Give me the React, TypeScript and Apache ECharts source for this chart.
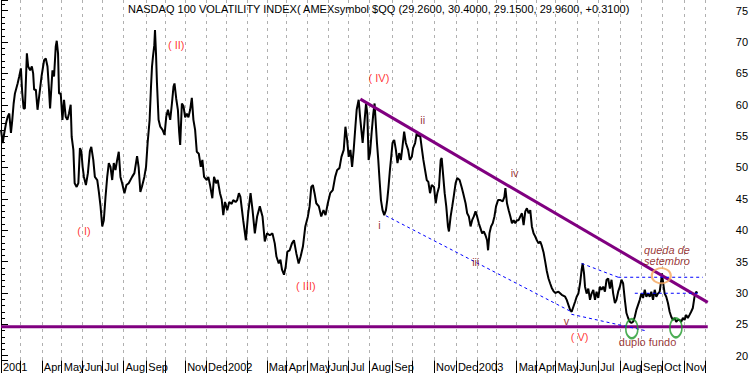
import React, { useEffect, useRef } from "react";
import * as echarts from "echarts";

const TITLE =
  "NASDAQ 100 VOLATILITY INDEX( AMEXsymbol $QQ (29.2600, 30.4000, 29.1500, 29.9600, +0.3100)";

// trading-day slots along the time axis
const DAY_SLOTS = 711;

// first trading day of each month (slot index) and its axis label
const monthStarts = [
  0, 19, 41, 61, 82, 102, 123, 146, 165, 185, 206, 226, 247, 267, 287, 308, 329, 349,
  370, 393, 413, 435, 457, 478, 498, 518, 538, 557, 579, 600, 622, 643, 664, 686, 707,
];
const monthLabels = [
  "2001", "", "Apr", "May", "Jun", "Jul", "Aug", "Sep", "", "Nov", "Dec", "2002", "",
  "Mar", "Apr", "May", "Jun", "Jul", "Aug", "Sep", "", "Nov", "Dec", "2003", "", "Mar",
  "Apr", "May", "Jun", "Jul", "Aug", "Sep", "Oct", "Nov", "",
];

// daily close of the index: [day slot, value]
const vxnDaily: [number, number][] = [
  [0, 56.0], [1.7, 53.9], [3.3, 55.5], [5, 57], [6.7, 58.1], [8.3, 58.6], [10, 55.5], [11.3, 57.5],
  [12.7, 60.2], [14, 61.8], [16.7, 63.4], [18.3, 64.5], [20, 65.8], [21.3, 62], [22.7, 59.4], [24, 59.4],
  [26, 68.2], [27.3, 66.1], [29.3, 65.5], [31, 66.1], [32.3, 65.0], [33.3, 62.4], [35, 62.4], [36.7, 59.2],
  [38.3, 61.3], [40.7, 64.5], [43.3, 67.1], [45, 67.4], [46.7, 66.1], [48, 63], [49.3, 59.4], [51.7, 65.5],
  [53.3, 64.5], [55, 69.3], [56, 70.2], [57.3, 68.2], [58.3, 61.8], [60, 61.8], [61.7, 57.6], [63.3, 60.8],
  [65, 58.1], [66.7, 57.6], [68.3, 58.6], [70, 60.0], [71, 54.9], [72.7, 52.8], [74, 47.5], [76, 46.9],
  [77.7, 47.5], [79.3, 53.1], [80.7, 52.6], [82, 50.1], [83.3, 48.5], [85.3, 47.2], [87.3, 49.1], [89.3, 52.6],
  [90.7, 53.3], [92.7, 51.2], [94.3, 48.5], [96.7, 48.0], [98.3, 46.1], [100, 43.8], [101.7, 40.6], [103.3, 41.6],
  [105, 45.3], [106.7, 48.5], [108.3, 50.7], [110, 50.1], [111.7, 48.0], [113.3, 50.7], [115, 49.6], [116.7, 51.2],
  [118.3, 52.5], [120, 48.5], [121.7, 47.5], [124, 45.9], [126, 47.2], [128.3, 47.5], [131.7, 48.5], [134, 49.1],
  [136.7, 51.8], [138.3, 50.0], [140, 46.1], [141.7, 47.0], [144, 48.5], [145.7, 50.1], [147.3, 53.9], [149.3, 57.6],
  [150.7, 62.9], [151.7, 66.1], [152.7, 67.7], [154, 69.5], [154.7, 71.9], [155.7, 68.2], [156.7, 63.4], [158.3, 57.6],
  [160, 56.5], [162.3, 56.0], [164.3, 55.2], [166, 58.1], [167.7, 59.2], [170, 57.6], [171.7, 60.2], [173.3, 62.9],
  [174.3, 63.4], [176, 61.0], [177.7, 59.2], [179, 55.6], [180, 53.6], [181.7, 60.2], [183.3, 59.8], [185, 58.0],
  [186.7, 58.6], [188.3, 58.0], [190, 59.2], [191.7, 61.1], [193.3, 57.6], [195, 56.0], [196.7, 52.5], [198.7, 52.2],
  [200.7, 50.1], [202.3, 51.2], [204, 48.5], [206.7, 48.0], [208.3, 48.5], [210, 47.2], [212.3, 45.1], [214, 48.5],
  [216, 47.5], [217.7, 48.0], [220, 45.9], [221.7, 44.9], [223.3, 42.4], [225, 44.5], [227.3, 43.2], [229.3, 44.5],
  [231.7, 44.2], [233.3, 44.8], [235.7, 44.5], [237.3, 44.8], [239, 45.9], [240.5, 45.3],
  [243.3, 41.6], [246, 38.4], [248.3, 42.7], [250.7, 45.9], [252.7, 43.2], [255, 39.5], [257.3, 42.2], [260, 43.8],
  [262.7, 42.2], [265, 38.2], [267.3, 39.5], [270, 39.2], [272.7, 39.5], [275, 37.9], [276.7, 35.8], [279, 34.7],
  [280.7, 35.3], [282.3, 33.7], [284.3, 32.9], [286, 34.2], [287.7, 36.6], [290, 36.8], [292.3, 37.9], [294.3, 38.4],
  [296.7, 36.3], [299, 34.7], [301, 35.8], [303.3, 37.4], [305.7, 40.6], [308.3, 42.2], [310, 43.8], [311.7, 46.9],
  [313.3, 47.2], [315, 45.9], [316.7, 44.3], [319.3, 43.8], [321.7, 42.2], [324, 43.2], [326, 42.4], [328.3, 44.3],
  [330.7, 45.9], [333.3, 46.4], [335.7, 48.5], [337.7, 49.6], [340, 49.9], [342, 51.7], [344.3, 52.8], [346, 56.5],
  [347.7, 54.4], [349.3, 51.7], [351, 52.8], [352.7, 50.1], [354.3, 52.8], [356, 56.5], [357.3, 59.2], [359.3, 60.8],
  [360.7, 58.1], [362, 56.0], [363.3, 53.9], [365, 57.0], [366.7, 60.2], [368, 58.6], [369.3, 51.2], [370.7, 52.3],
  [372.3, 55.5], [374, 58.6], [375.3, 60.2], [376.7, 56.5], [377.7, 53.9], [379, 51.2], [380.3, 48.0], [381.7, 44.8],
  [383.3, 43.2], [385, 42.4], [386.7, 43.2], [388, 44.8], [389.3, 46.9], [390.7, 49.6], [392, 51.7], [393.3, 53.9],
  [395, 54.4], [396.7, 52.8], [398.3, 50.7], [400, 52.3], [401.7, 51.2], [403.3, 53.3], [405, 55.7], [406.7, 53.9],
  [409, 52.8], [410.7, 51.2], [412.7, 51.7], [414, 53.1], [416, 53.9], [417.7, 55.5], [419.3, 55.0], [421, 55.2],
  [422.7, 53.1], [424.3, 51.2], [426, 49.6], [427.7, 48.0], [429.3, 47.7], [431, 45.9], [432.7, 47.2], [435, 46.9],
  [436.7, 44.3], [438.3, 45.9], [440, 46.9], [441.7, 51.2], [442.7, 51.5], [444, 49.1], [445.7, 45.9], [447.3, 43.8],
  [449, 40.6], [450, 39.8], [451.7, 42.2], [453.3, 43.8], [455, 45.6], [456.7, 47.5], [458.3, 48.3], [460.7, 48.0],
  [462.7, 46.9], [464.3, 45.9], [466.7, 44.3], [468.3, 42.7], [470, 42.2], [471.7, 40.6], [473.3, 41.6], [475, 42.2],
  [476.7, 43.0], [478.3, 42.2], [480, 41.1], [481.7, 40.3], [483.3, 39.5], [485, 39.8], [486.7, 39.2], [488.3, 38.4],
  [489.3, 36.8], [490.7, 39.5], [492.3, 40.6], [494, 41.1], [495.7, 42.2], [497.3, 43.8], [499.3, 44.8], [501.7, 44.8],
  [504, 44.6], [505.7, 45.3], [506.7, 46.7], [508.3, 44.3], [510, 43.2], [511.7, 42.2], [513.3, 41.1], [515, 41.6],
  [516.7, 41.1], [518.3, 41.6], [520, 41.6], [521.7, 42.2], [523.3, 42.7], [525, 40.8], [526.7, 43.0], [528.3, 43.5],
  [530, 42.7], [531.7, 43.2], [533.3, 40.6], [535, 39.5], [536.7, 39.0], [538.3, 38.4], [540, 37.9], [541.7, 38.2],
  [543.3, 37.5], [545, 36.5], [546.7, 35.0], [548.3, 33.5], [550, 32.3], [551.7, 31.5], [553.3, 30.8], [555, 30.3],
  [556.7, 30.0], [560, 30.2], [563.3, 29.7], [566.7, 29.4], [568.3, 28.9], [570, 28.1], [571.7, 27.3], [573.3, 27.0],
  [575, 27.8], [576.7, 28.6], [578.3, 29.4], [580, 29.9], [581.7, 31.5], [583.3, 33.7], [584.3, 34.7], [585.7, 33.1],
  [586.7, 31.0], [588.3, 29.9], [590, 30.7], [591.7, 28.9], [593.3, 29.9], [595, 30.5], [596.7, 28.9], [598.3, 30.2],
  [600, 29.2], [601.7, 31.0], [603.3, 30.5], [605, 31.0], [606.7, 30.2], [608.3, 32.1], [610, 32.3], [611.7, 30.7],
  [613.3, 32.1], [615, 29.9], [616.7, 28.4], [618.3, 28.9], [620, 30.2], [621.7, 31.0], [623.3, 32.1], [625, 31.5],
  [626.7, 28.9], [628.3, 26.8], [630, 26.0], [631.7, 25.4], [633.3, 25.2], [635, 25.4], [636.7, 26.2], [638.3, 27.3],
  [640, 28.1], [641.7, 28.9], [643.3, 29.9], [645, 29.2], [646.7, 30.5], [648.3, 29.4], [650, 29.9], [651.7, 29.4],
  [653.3, 30.2], [655, 28.9], [656.7, 30.5], [658.3, 29.4], [660, 29.9], [661.7, 30.2], [663.3, 32.1], [664, 33.1],
  [665.3, 31.5], [666.7, 29.9], [668.3, 29.4], [670, 28.4], [671.7, 27.0], [673.3, 26.2], [675, 25.7], [676.7, 26.0],
  [678.3, 25.4], [680, 25.7], [681.7, 25.7], [683.3, 25.4], [685, 26.0], [686.7, 25.7], [688.3, 26.5], [690, 26.0],
  [691.7, 26.5], [693.3, 27.0], [695, 27.6], [696.7, 29.4], [698.3, 30.2], [699.5, 29.96],
];

// trend lines: [day slot, value]
const resistanceLine: [number, number][] = [[361, 60.9], [710, 28.5]];
const supportLine: [number, number][] = [[0, 24.6], [710, 24.6]];
const channelLines: [number, number][][] = [
  [[386.7, 42.3], [573, 27.0]],
  [[573, 26.6], [647, 24.0]],
  [[583.3, 34.7], [620, 32.5]],
  [[620, 32.5], [705, 32.5]],
  [[636.7, 29.95], [700, 29.95]],
];

// Elliott wave annotations: [day slot, value, text]
const majorWaves: [number, number, string][] = [
  [83.3, 39.9, "( I)"],
  [176, 69.5, "( II)"],
  [306.3, 31.1, "( III)"],
  [379.7, 64.3, "( IV)"],
  [581.3, 22.95, "( V)"],
];
const minorWaves: [number, number, string][] = [
  [380.3, 40.9, "i"],
  [423.7, 57.6, "ii"],
  [477, 35.0, "iii"],
  [516, 49.1, "iv"],
  [568, 25.6, "v"],
];
const notes: [number, number, string][] = [
  [649.5, 22.2, "duplo fundo"],
];
const septemberNote: [number, number, string][] = [[669, 36.0, "queda de\nsetembro"]];
const septemberPeak: [number, number][] = [[663.3, 32.75]];
const doubleBottom: [number, number][] = [[633.7, 24.3], [678, 24.45]];

const NARROW = "'Liberation Sans Narrow', 'Liberation Sans', Arial, sans-serif";
const REG = "'Liberation Sans', Arial, sans-serif";

export default function App() {
  const ref = useRef<HTMLDivElement>(null);

  useEffect(() => {
    if (!ref.current) return;
    const chart = echarts.init(ref.current, undefined, { renderer: "svg" });
    const tickSet = new Set(monthStarts);
    const labelAt = new Map<number, string>();
    monthStarts.forEach((d, i) => labelAt.set(d, monthLabels[i]));
    const categories = Array.from({ length: DAY_SLOTS }, (_, i) => String(i));

    const textSeries = (data: [number, number, string][], color: string, font: string, extra: any = {}) => ({
      type: "scatter",
      xAxisIndex: 1,
      data: data.map((d) => ({ value: [d[0], d[1]], name: d[2] })),
      symbolSize: 1,
      itemStyle: { color: "rgba(0,0,0,0)" },
      silent: true,
      z: 6,
      label: {
        show: true,
        position: "inside",
        formatter: (p: any) => p.name,
        color,
        fontFamily: font,
        fontSize: 11,
        ...extra,
      },
    });

    const lineSeries = (data: [number, number][], color: string, width: number, type: any, z: number) => ({
      type: "line",
      xAxisIndex: 1,
      data,
      symbol: "none",
      silent: true,
      z,
      lineStyle: { color, width, type },
    });

    chart.setOption({
      animation: false,
      backgroundColor: "#ffffff",
      title: {
        text: TITLE,
        left: 128,
        top: 3,
        padding: 0,
        textStyle: { fontFamily: NARROW, fontSize: 11, fontWeight: "normal", color: "#000" },
      },
      grid: { left: 0, right: 41, top: 0, bottom: 12.5, containLabel: false },
      xAxis: [
        {
          type: "category",
          data: categories,
          boundaryGap: false,
          axisLine: { show: false },
          axisTick: {
            show: true,
            interval: (i: number) => tickSet.has(i),
            length: 13,
            lineStyle: { color: "#000", width: 1 },
          },
          axisLabel: {
            interval: (i: number) => !!labelAt.get(i),
            formatter: (_v: string, i: number) => labelAt.get(i) || "",
            align: "left",
            margin: 1,
            padding: [0, 0, 0, 2],
            fontFamily: NARROW,
            fontSize: 11,
            color: "#000",
          },
          splitLine: {
            show: true,
            interval: (i: number) => tickSet.has(i),
            lineStyle: { color: "#b0b0b0", width: 1, type: [3, 4] },
          },
        },
        { type: "value", min: 0, max: 710, show: false },
      ],
      yAxis: {
        type: "value",
        position: "right",
        min: 19.23,
        max: 76.7,
        splitNumber: 11,
        minInterval: 5,
        maxInterval: 5,
        axisLine: { show: true, lineStyle: { color: "#000", width: 1 } },
        axisTick: { show: true, length: 7, lineStyle: { color: "#000" } },
        minorTick: { show: true, splitNumber: 5, length: 4, lineStyle: { color: "#000" } },
        axisLabel: {
          margin: 28,
          align: "left",
          showMinLabel: false,
          showMaxLabel: false,
          fontFamily: NARROW,
          fontSize: 11,
          color: "#000",
        },
        splitLine: { show: false },
      },
      series: [
        lineSeries(vxnDaily, "#000000", 2, "solid", 3),
        lineSeries(supportLine, "#800080", 3, "solid", 4),
        lineSeries(resistanceLine, "#800080", 3, "solid", 4),
        ...channelLines.map((l) => lineSeries(l, "#0000ff", 1, [3, 3], 4)),
        {
          type: "scatter",
          xAxisIndex: 1,
          data: septemberPeak,
          symbol: "circle",
          symbolSize: [19, 15],
          silent: true,
          z: 5,
          itemStyle: { color: "rgba(0,0,0,0)", borderColor: "#f5a55a", borderWidth: 2 },
        },
        {
          type: "scatter",
          xAxisIndex: 1,
          data: doubleBottom,
          symbol: "circle",
          symbolSize: [12, 19],
          silent: true,
          z: 5,
          itemStyle: { color: "rgba(0,0,0,0)", borderColor: "#1f9a2a", borderWidth: 2 },
        },
        textSeries(majorWaves, "#ff0000", REG),
        textSeries(minorWaves, "#800000", REG),
        textSeries(notes, "#800000", NARROW, { fontSize: 11 }),
        textSeries(septemberNote, "#800000", NARROW, { fontStyle: "italic", lineHeight: 11 }),
      ],
    });

    return () => chart.dispose();
  }, []);

  return (
    <div
      ref={ref}
      style={{ position: "fixed", left: 0, top: 0, width: 751, height: 373, background: "#fff" }}
    />
  );
}
